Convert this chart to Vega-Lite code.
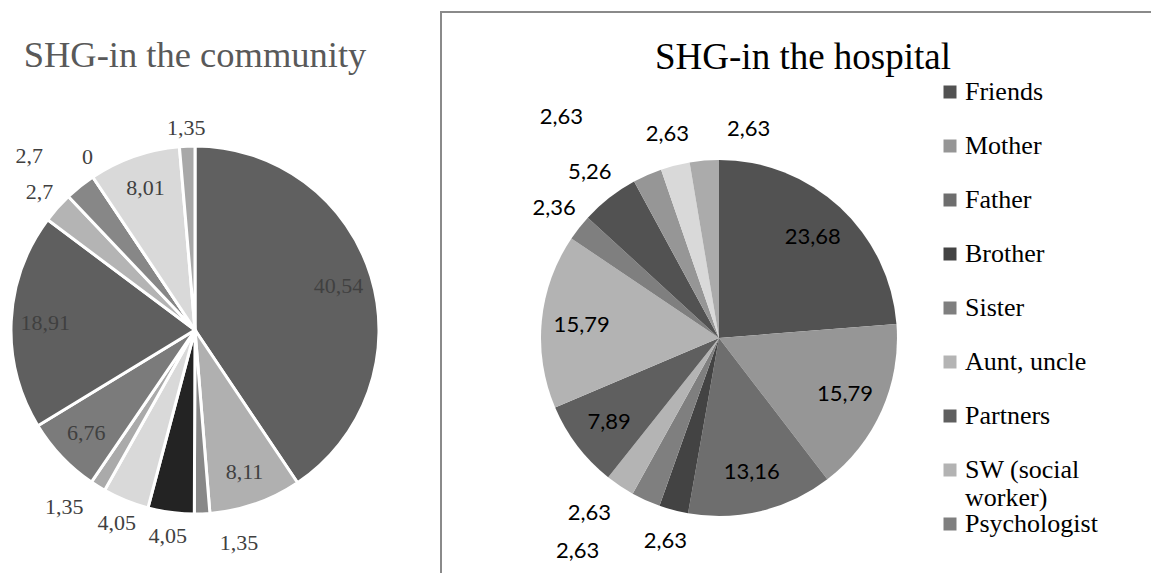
{
  "$schema": "https://vega.github.io/schema/vega-lite/v6.json",
  "padding": {"left": 0, "top": 11, "right": 0, "bottom": 0},
  "autosize": {"type": "pad"},
  "background": "white",
  "spacing": 51,
  "bounds": "flush",
  "config": {
    "locale": {"number": {"decimal": ",", "thousands": ".", "grouping": [3], "currency": ["", " €"]}},
    "font": "Liberation Serif"
  },
  "data": {
    "values": [
      {"idx": 1, "category": "Friends", "community": 40.54, "hospital": 23.68},
      {"idx": 2, "category": "Mother", "community": 8.11, "hospital": 15.79},
      {"idx": 3, "category": "Father", "community": 1.35, "hospital": 13.16},
      {"idx": 4, "category": "Brother", "community": 4.05, "hospital": 2.63},
      {"idx": 5, "category": "Sister", "community": 4.05, "hospital": 2.63},
      {"idx": 6, "category": "Aunt, uncle", "community": 1.35, "hospital": 2.63},
      {"idx": 7, "category": "Partners", "community": 6.76, "hospital": 7.89},
      {"idx": 8, "category": "SW (social worker)", "community": 18.91, "hospital": 15.79},
      {"idx": 9, "category": "Psychologist", "community": 2.7, "hospital": 2.36},
      {"idx": 10, "category": "Category 10", "community": 2.7, "hospital": 5.26},
      {"idx": 11, "category": "Category 11", "community": 0, "hospital": 2.63},
      {"idx": 12, "category": "Category 12", "community": 8.01, "hospital": 2.63},
      {"idx": 13, "category": "Category 13", "community": 1.35, "hospital": 2.63}
    ]
  },
  "resolve": {"scale": {"color": "independent", "theta": "independent"}, "legend": {"color": "independent"}},
  "hconcat": [
    {
      "width": 390,
      "height": 561,
      "view": {"stroke": null, "fill": "white"},
      "title": {"text": "SHG-in the community", "color": "#595959", "font": "Liberation Serif", "fontSize": 36.5, "fontWeight": "normal", "anchor": "middle", "baseline": "alphabetic", "frame": "group", "offset": -91},
      "layer": [
        {
          "mark": {"type": "arc", "outerRadius": 184, "stroke": "white", "strokeWidth": 3, "yOffset": 37.5},
          "encoding": {
            "theta": {"field": "community", "type": "quantitative", "stack": true},
            "order": {"field": "idx", "type": "quantitative"},
            "color": {"field": "category", "type": "nominal", "legend": null,
              "scale": {"domain": ["Friends", "Mother", "Father", "Brother", "Sister", "Aunt, uncle", "Partners", "SW (social worker)", "Psychologist", "Category 10", "Category 11", "Category 12", "Category 13"],
                        "range": ["#606060", "#b0b0b0", "#888888", "#232323", "#d9d9d9", "#aaaaaa", "#7b7b7b", "#5f5f5f", "#b4b4b4", "#878787", "#999999", "#d9d9d9", "#a8a8a8"]}}
          }
        },
        {
          "mark": {"type": "text", "yOffset": 37.5, "font": "Liberation Serif", "fontSize": 22, "color": "#404040", "align": "center", "baseline": "middle",
            "radius": {"expr": "datum.community > 6 ? 150 : 208"},
            "dx": {"expr": "datum.idx == 3 ? 36 : datum.idx == 10 ? -36 : datum.idx == 6 ? -21 : datum.idx == 11 ? 8 : 0"},
            "dy": {"expr": "datum.idx == 3 ? 5 : datum.idx == 10 ? -11 : datum.idx == 13 ? 6 : 0"}},
          "encoding": {
            "theta": {"field": "community", "type": "quantitative", "stack": true},
            "order": {"field": "idx", "type": "quantitative"},
            "detail": {"field": "category", "type": "nominal"},
            "text": {"field": "community", "type": "quantitative", "format": "~g"}
          }
        }
      ]
    },
    {
      "width": 710,
      "height": 561,
      "view": {"stroke": "#8a8a8a", "strokeWidth": 2, "strokeDash": [710, 1271, 561], "fill": "white"},
      "title": {"text": "SHG-in the hospital", "color": "black", "font": "Liberation Serif", "fontSize": 37, "fontWeight": "normal", "anchor": "middle", "baseline": "alphabetic", "frame": "group", "offset": -94, "dx": 7},
      "layer": [
        {
          "mark": {"type": "arc", "outerRadius": 178, "xOffset": -77, "yOffset": 45.5},
          "encoding": {
            "theta": {"field": "hospital", "type": "quantitative", "stack": true},
            "order": {"field": "idx", "type": "quantitative"},
            "color": {"field": "category", "type": "nominal",
              "scale": {"domain": ["Friends", "Mother", "Father", "Brother", "Sister", "Aunt, uncle", "Partners", "SW (social worker)", "Psychologist", "Category 10", "Category 11", "Category 12", "Category 13"],
                        "range": ["#525252", "#969696", "#6e6e6e", "#434343", "#7f7f7f", "#b4b4b4", "#5f5f5f", "#b3b3b3", "#7f7f7f", "#525252", "#969696", "#d9d9d9", "#ababab"]},
              "legend": {
                "orient": "none", "legendX": 496, "legendY": 67, "title": null,
                "values": ["Friends", "Mother", "Father", "Brother", "Sister", "Aunt, uncle", "Partners", "SW (social worker)", "Psychologist"],
                "symbolType": "square", "symbolSize": 169, "symbolStrokeWidth": 0,
                "labelFont": "Liberation Serif", "labelFontSize": 26, "labelColor": "black", "labelOffset": 2, "labelLimit": 400,
                "rowPadding": 0, "gridAlign": "all", "padding": 0, "labelBaseline": "middle",
                "labelExpr": "datum.label == 'SW (social worker)' ? ['SW (social', 'worker)'] : datum.label"
              }}
          }
        },
        {
          "mark": {"type": "text", "xOffset": -77, "yOffset": 45.5, "font": "Lato", "fontSize": 22, "color": "black", "align": "center", "baseline": "middle",
            "radius": {"expr": "datum.hospital > 6 ? 138 : 210"},
            "dx": {"expr": "datum.idx == 5 ? -55 : datum.idx == 11 ? -73 : datum.idx == 13 ? 47 : datum.idx == 6 ? -13 : 0"},
            "dy": {"expr": "datum.idx == 5 ? 22 : datum.idx == 11 ? -29 : 0"}},
          "encoding": {
            "theta": {"field": "hospital", "type": "quantitative", "stack": true},
            "order": {"field": "idx", "type": "quantitative"},
            "detail": {"field": "category", "type": "nominal"},
            "text": {"field": "hospital", "type": "quantitative", "format": "~g"}
          }
        }
      ]
    }
  ]
}
